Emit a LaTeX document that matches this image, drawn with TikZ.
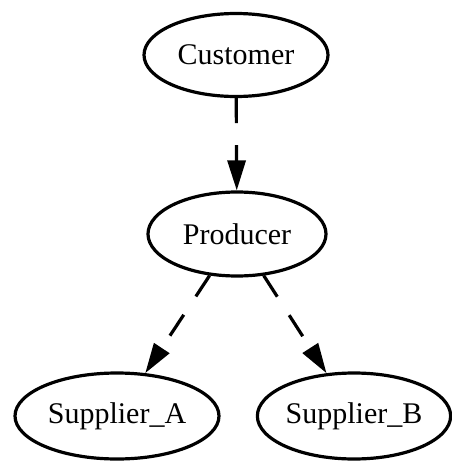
\documentclass[tikz,border=0pt]{standalone}
\usepackage{fontspec}
\setmainfont{Liberation Serif}
\usetikzlibrary{shapes.geometric,arrows.meta}
\begin{document}
\begin{tikzpicture}[x=1pt,y=-1pt,
  state/.style={draw, ellipse, line width=3.2pt, inner sep=0pt,
    font=\fontsize{30}{36}\selectfont},
  flow/.style={line width=3.2pt, dash pattern=on 25pt off 22pt,
    -{Triangle[length=30pt,width=18pt]}}]
  \useasboundingbox (0,0) rectangle (451,464);
  \node[state, minimum width=184pt, minimum height=83pt] (cust) at (236,55) {Customer};
  \node[state, minimum width=178pt, minimum height=84pt] (prod) at (237,234) {Producer};
  \node[state, minimum width=204pt, minimum height=86pt] (supa) at (117,416) {Supplier\_A};
  \node[state, minimum width=190pt, minimum height=86pt] (supb) at (354,416) {Supplier\_B};
  \draw[flow] (cust) -- (prod);
  \draw[flow] (prod) -- (supa);
  \draw[flow] (prod) -- (supb);
\end{tikzpicture}
\end{document}
